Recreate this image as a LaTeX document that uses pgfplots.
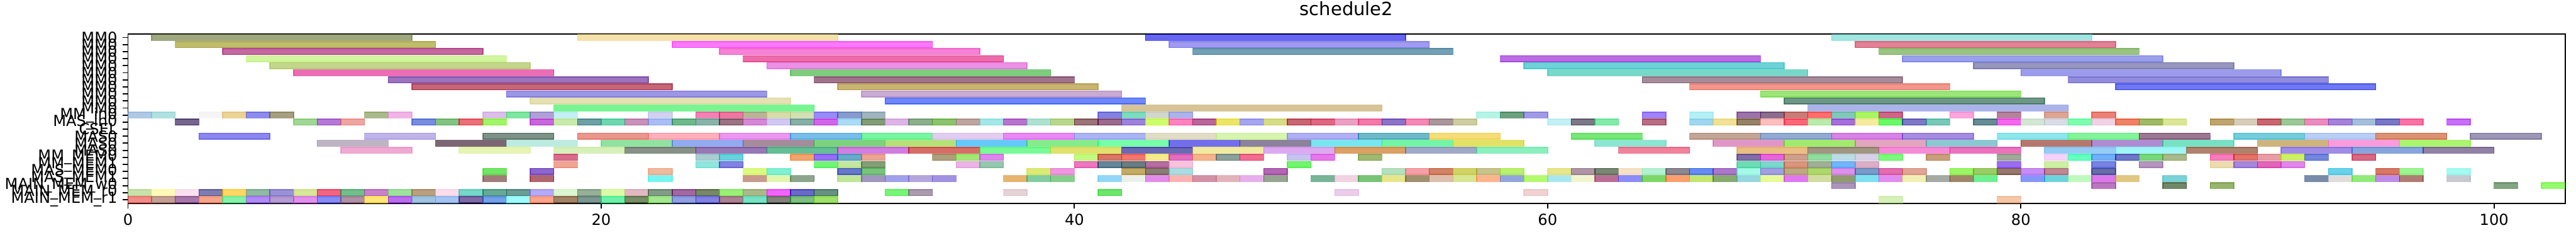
\documentclass[border=0pt]{standalone}
\usepackage{fontspec}
\setmainfont{DejaVu Sans}
\usepackage{pgfplots}
\pgfplotsset{compat=1.18}
\pgfplotsset{barsty/.style={fill opacity=0.6, draw opacity=0.6, line width=0.6pt}}
% \B{row}{start}{end}{R}{G}{B}  (observed colour over white, alpha 0.6)
\newcommand\B[6]{%
  \pgfmathtruncatemacro\bcR{max(0,min(255,(#4-102)/0.6))}%
  \pgfmathtruncatemacro\bcG{max(0,min(255,(#5-102)/0.6))}%
  \pgfmathtruncatemacro\bcB{max(0,min(255,(#6-102)/0.6))}%
  \pgfmathsetmacro\bya{#1-0.43}%
  \pgfmathsetmacro\byb{#1+0.43}%
  \edef\bdoit{\noexpand\addplot[barsty, fill={rgb,255:red,\bcR;green,\bcG;blue,\bcB}, draw={rgb,255:red,\bcR;green,\bcG;blue,\bcB}] coordinates {(#2,\bya) (#3,\bya) (#3,\byb) (#2,\byb)} --cycle;}%
  \bdoit}
% unit bar: \U{row}{start}{R}{G}{B}
\newcommand\U[5]{\B{#1}{#2}{\the\numexpr#2+1\relax}{#3}{#4}{#5}}
\begin{document}
\begin{tikzpicture}
\useasboundingbox (-84.24pt,-24.12pt) rectangle (1611.4pt,133.56pt);
\begin{axis}[
  at={(0,0)}, anchor=south west,
  scale only axis, width=1604.2pt, height=111.24pt,
  xmin=0, xmax=103, ymin=-0.5, ymax=23.5, y dir=reverse,
  xtick={0,20,40,60,80,100},
  ytick={0,...,23},
  yticklabels={MM0,MM0,MM0,MM0,MM0,MM0,MM0,MM0,MM0,MM0,MM0,MM\_in0,MAS\_in0,CSEL,MAS0,MAS0,MAS0,MM\_MEM0,MM\_MEM1,MAS\_MEM0,MAS\_MEM1,MAIN\_MEM\_w0,MAIN\_MEM\_r0,MAIN\_MEM\_r1},
  tick align=outside, tick pos=left,
  major tick length=3.5pt,
  every tick/.style={black, line width=0.8pt},
  axis line style={line width=0.8pt},
  tick label style={font=\fontsize{10}{12}\selectfont},
  /pgf/number format/assume math mode=true,
  title={schedule2},
  title style={font=\fontsize{12}{14}\selectfont, at={(0.5,1)}, anchor=base, yshift=6pt},
]
% MM0 rows
\B{0}{1}{12}{160}{168}{130}
\B{0}{19}{30}{245}{225}{170}
\B{0}{43}{54}{100}{100}{240}
\B{0}{72}{83}{160}{230}{225}
\B{1}{2}{13}{192}{188}{110}
\B{1}{23}{34}{250}{120}{250}
\B{1}{44}{55}{160}{155}{240}
\B{1}{73}{84}{225}{130}{150}
\B{2}{4}{15}{195}{105}{160}
\B{2}{25}{36}{245}{130}{215}
\B{2}{45}{56}{115}{160}{180}
\B{2}{74}{85}{155}{195}{130}
\B{3}{5}{16}{210}{245}{160}
\B{3}{26}{37}{235}{110}{170}
\B{3}{58}{69}{185}{110}{225}
\B{3}{75}{86}{155}{160}{235}
\B{4}{6}{17}{195}{215}{140}
\B{4}{27}{38}{235}{145}{230}
\B{4}{59}{70}{110}{210}{215}
\B{4}{78}{89}{150}{150}{190}
\B{5}{7}{18}{235}{110}{180}
\B{5}{28}{39}{125}{205}{125}
\B{5}{60}{71}{120}{215}{200}
\B{5}{80}{91}{155}{155}{235}
\B{6}{11}{22}{155}{115}{190}
\B{6}{29}{40}{160}{115}{140}
\B{6}{64}{75}{165}{140}{155}
\B{6}{82}{93}{145}{140}{220}
\B{7}{12}{23}{195}{100}{120}
\B{7}{30}{41}{200}{180}{115}
\B{7}{66}{77}{240}{150}{140}
\B{7}{84}{95}{110}{120}{240}
\B{8}{16}{27}{155}{150}{230}
\B{8}{31}{42}{200}{170}{210}
\B{8}{69}{80}{155}{230}{120}
\B{9}{17}{28}{230}{225}{180}
\B{9}{32}{43}{110}{135}{250}
\B{9}{70}{81}{110}{150}{135}
\B{10}{18}{29}{120}{245}{145}
\B{10}{42}{53}{215}{195}{150}
\B{10}{71}{82}{170}{180}{235}
% row 11 MM_in0
\U{11}{0}{175}{200}{230}
\U{11}{1}{175}{225}{225}
\U{11}{3}{245}{245}{245}
\U{11}{4}{235}{210}{150}
\U{11}{5}{140}{140}{235}
\U{11}{6}{165}{160}{130}
\U{11}{10}{170}{185}{140}
\U{11}{11}{240}{180}{230}
\U{11}{15}{220}{190}{235}
\U{11}{16}{125}{230}{160}
\U{11}{17}{175}{160}{215}
\U{11}{18}{195}{240}{245}
\U{11}{22}{210}{210}{240}
\U{11}{24}{240}{130}{180}
\U{11}{25}{235}{120}{160}
\U{11}{26}{185}{180}{150}
\U{11}{27}{215}{220}{170}
\U{11}{28}{210}{225}{180}
\U{11}{29}{150}{140}{245}
\U{11}{30}{135}{155}{205}
\U{11}{31}{160}{180}{190}
\U{11}{41}{130}{130}{225}
\U{11}{42}{125}{220}{190}
\U{11}{43}{210}{215}{205}
\U{11}{44}{170}{180}{235}
\U{11}{57}{180}{245}{230}
\U{11}{58}{110}{160}{125}
\U{11}{59}{160}{155}{230}
\U{11}{64}{160}{130}{250}
\U{11}{66}{180}{240}{245}
\U{11}{68}{155}{115}{170}
\U{11}{69}{140}{110}{140}
\U{11}{70}{200}{125}{120}
\U{11}{71}{255}{110}{110}
\U{11}{72}{130}{200}{185}
\U{11}{73}{170}{245}{90}
\U{11}{74}{205}{100}{135}
\U{11}{77}{250}{165}{220}
\U{11}{79}{180}{130}{155}
\U{11}{81}{220}{165}{150}
\U{11}{83}{235}{130}{120}
% row 12 MAS_in0
\U{12}{2}{115}{95}{140}
\U{12}{7}{160}{215}{150}
\U{12}{8}{180}{120}{215}
\U{12}{9}{240}{165}{160}
\U{12}{12}{120}{140}{225}
\U{12}{13}{130}{195}{130}
\U{12}{14}{235}{110}{120}
\U{12}{15}{160}{245}{100}
\U{12}{17}{200}{100}{220}
\U{12}{18}{200}{235}{170}
\U{12}{19}{110}{160}{165}
\U{12}{20}{110}{215}{175}
\U{12}{21}{200}{145}{185}
\U{12}{22}{170}{190}{245}
\U{12}{23}{110}{185}{140}
\U{12}{24}{135}{180}{170}
\U{12}{25}{155}{115}{130}
\U{12}{26}{215}{135}{215}
\U{12}{27}{210}{200}{245}
\U{12}{28}{135}{175}{165}
\U{12}{29}{210}{90}{235}
\U{12}{30}{170}{220}{245}
\U{12}{31}{130}{155}{120}
\U{12}{32}{220}{180}{230}
\U{12}{33}{140}{175}{140}
\U{12}{34}{140}{195}{110}
\U{12}{35}{190}{165}{160}
\U{12}{36}{165}{230}{230}
\U{12}{37}{185}{115}{205}
\U{12}{38}{175}{225}{210}
\U{12}{39}{185}{215}{140}
\U{12}{40}{155}{115}{120}
\U{12}{41}{155}{105}{140}
\U{12}{42}{155}{130}{220}
\U{12}{43}{205}{255}{105}
\U{12}{44}{255}{130}{190}
\U{12}{45}{185}{100}{155}
\U{12}{46}{235}{230}{90}
\U{12}{47}{165}{165}{240}
\U{12}{48}{215}{220}{135}
\U{12}{49}{200}{100}{115}
\U{12}{50}{225}{100}{130}
\U{12}{51}{235}{160}{195}
\U{12}{52}{245}{120}{170}
\U{12}{53}{140}{115}{200}
\U{12}{54}{245}{135}{180}
\U{12}{55}{170}{150}{155}
\U{12}{56}{205}{205}{160}
\U{12}{60}{195}{240}{245}
\U{12}{61}{125}{120}{135}
\U{12}{62}{130}{235}{170}
\U{12}{64}{185}{110}{130}
\U{12}{66}{160}{215}{240}
\U{12}{67}{240}{225}{150}
\U{12}{68}{150}{130}{100}
\U{12}{69}{255}{190}{190}
\U{12}{70}{255}{100}{120}
\U{12}{71}{185}{235}{170}
\U{12}{72}{165}{110}{220}
\U{12}{73}{245}{235}{160}
\U{12}{74}{100}{250}{100}
\U{12}{75}{125}{120}{200}
\U{12}{76}{120}{200}{185}
\U{12}{78}{100}{140}{150}
\U{12}{79}{245}{85}{240}
\U{12}{80}{210}{230}{210}
\U{12}{81}{215}{220}{230}
\U{12}{82}{125}{255}{175}
\U{12}{83}{240}{210}{230}
\U{12}{84}{240}{130}{90}
\U{12}{85}{160}{185}{90}
\U{12}{86}{220}{230}{150}
\U{12}{88}{190}{165}{110}
\U{12}{89}{215}{205}{185}
\U{12}{90}{200}{100}{110}
\U{12}{91}{155}{200}{150}
\U{12}{92}{235}{140}{190}
\U{12}{93}{165}{130}{220}
\U{12}{94}{165}{190}{220}
\U{12}{95}{120}{120}{200}
\U{12}{96}{250}{115}{165}
\U{12}{98}{200}{110}{250}
% row 14 MAS0
\B{14}{3}{6}{140}{135}{240}
\B{14}{10}{13}{190}{180}{235}
\B{14}{15}{18}{125}{145}{135}
\B{14}{19}{22}{235}{150}{140}
\B{14}{22}{25}{255}{175}{185}
\B{14}{25}{28}{235}{150}{240}
\B{14}{28}{31}{120}{190}{235}
\B{14}{31}{34}{120}{245}{160}
\B{14}{34}{37}{225}{205}{240}
\B{14}{37}{40}{235}{135}{245}
\B{14}{40}{43}{170}{180}{245}
\B{14}{43}{46}{225}{220}{200}
\B{14}{46}{49}{215}{245}{175}
\B{14}{49}{52}{175}{175}{245}
\B{14}{52}{55}{110}{185}{200}
\B{14}{55}{58}{245}{220}{120}
\B{14}{61}{64}{120}{230}{120}
\B{14}{66}{69}{195}{165}{150}
\B{14}{69}{72}{145}{170}{210}
\B{14}{72}{75}{215}{130}{230}
\B{14}{75}{78}{165}{140}{225}
\B{14}{79}{82}{140}{230}{235}
\B{14}{82}{85}{130}{245}{155}
\B{14}{85}{88}{155}{120}{145}
\B{14}{89}{92}{115}{205}{220}
\B{14}{92}{95}{185}{205}{245}
\B{14}{95}{98}{220}{145}{115}
\B{14}{99}{102}{155}{150}{180}
% row 15 MAS0
\B{15}{8}{11}{190}{180}{195}
\B{15}{13}{16}{125}{100}{115}
\B{15}{16}{19}{190}{235}{225}
\B{15}{20}{23}{145}{225}{160}
\B{15}{23}{26}{145}{170}{240}
\B{15}{26}{29}{165}{140}{155}
\B{15}{29}{32}{125}{210}{125}
\B{15}{32}{35}{180}{225}{120}
\B{15}{35}{38}{100}{200}{250}
\B{15}{38}{41}{135}{235}{140}
\B{15}{41}{44}{120}{255}{170}
\B{15}{44}{47}{115}{110}{235}
\B{15}{47}{50}{140}{130}{155}
\B{15}{50}{53}{120}{230}{240}
\B{15}{53}{56}{115}{245}{165}
\B{15}{56}{59}{225}{225}{100}
\B{15}{62}{65}{140}{230}{210}
\B{15}{67}{70}{225}{150}{200}
\B{15}{70}{73}{160}{235}{110}
\B{15}{73}{76}{225}{165}{190}
\B{15}{76}{79}{140}{200}{210}
\B{15}{80}{83}{180}{120}{110}
\B{15}{83}{86}{175}{140}{210}
\B{15}{86}{89}{120}{225}{195}
\B{15}{90}{93}{205}{180}{125}
\B{15}{93}{96}{250}{155}{220}
\B{15}{96}{99}{170}{245}{110}
% row 16 MAS0
\B{16}{9}{12}{240}{170}{210}
\B{16}{14}{17}{230}{245}{180}
\B{16}{18}{21}{215}{240}{185}
\B{16}{21}{24}{135}{145}{135}
\B{16}{24}{27}{150}{120}{180}
\B{16}{27}{30}{100}{190}{150}
\B{16}{30}{33}{210}{125}{225}
\B{16}{33}{36}{215}{110}{100}
\B{16}{36}{39}{120}{250}{150}
\B{16}{39}{42}{225}{225}{110}
\B{16}{42}{45}{105}{105}{180}
\B{16}{45}{48}{240}{235}{160}
\B{16}{48}{51}{220}{170}{240}
\B{16}{51}{54}{220}{160}{100}
\B{16}{54}{57}{160}{170}{200}
\B{16}{57}{60}{140}{240}{190}
\B{16}{63}{66}{240}{130}{155}
\B{16}{68}{71}{235}{190}{130}
\B{16}{71}{74}{160}{150}{130}
\B{16}{74}{77}{245}{140}{215}
\B{16}{77}{80}{235}{115}{190}
\B{16}{81}{84}{150}{205}{245}
\B{16}{84}{87}{160}{245}{245}
\B{16}{87}{90}{175}{130}{110}
\B{16}{91}{94}{160}{140}{230}
\B{16}{94}{97}{135}{165}{220}
\B{16}{97}{100}{145}{130}{165}
% row 17
\U{17}{18}{215}{110}{140}
\U{17}{24}{170}{205}{210}
\U{17}{25}{105}{210}{220}
\U{17}{28}{240}{165}{110}
\U{17}{29}{150}{110}{245}
\U{17}{30}{105}{170}{200}
\U{17}{31}{235}{165}{150}
\U{17}{34}{175}{160}{125}
\U{17}{35}{165}{230}{120}
\U{17}{36}{220}{135}{235}
\U{17}{40}{195}{250}{130}
\U{17}{41}{215}{120}{100}
\U{17}{42}{240}{120}{110}
\U{17}{43}{245}{235}{140}
\U{17}{44}{225}{110}{190}
\U{17}{45}{245}{180}{140}
\U{17}{46}{140}{160}{155}
\U{17}{47}{240}{110}{145}
\U{17}{49}{200}{195}{240}
\U{17}{50}{230}{120}{235}
\U{17}{52}{160}{185}{115}
\U{17}{68}{130}{110}{165}
\U{17}{69}{230}{100}{215}
\U{17}{70}{205}{160}{140}
\U{17}{71}{145}{220}{160}
\U{17}{72}{190}{220}{230}
\U{17}{73}{215}{210}{230}
\U{17}{74}{125}{250}{125}
\U{17}{76}{200}{160}{125}
\U{17}{79}{160}{170}{150}
\U{17}{81}{245}{210}{250}
\U{17}{82}{100}{255}{190}
\U{17}{83}{115}{175}{245}
\U{17}{84}{110}{120}{200}
\U{17}{85}{120}{215}{125}
\U{17}{86}{170}{185}{140}
\U{17}{88}{245}{125}{185}
\U{17}{89}{225}{115}{105}
\U{17}{90}{230}{160}{165}
\U{17}{91}{205}{240}{90}
\U{17}{92}{115}{135}{220}
\U{17}{94}{215}{105}{130}
% row 18
\U{18}{18}{240}{165}{150}
\U{18}{24}{145}{230}{220}
\U{18}{25}{130}{130}{225}
\U{18}{29}{115}{245}{120}
\U{18}{30}{195}{230}{160}
\U{18}{31}{130}{160}{120}
\U{18}{35}{235}{180}{230}
\U{18}{36}{150}{200}{175}
\U{18}{40}{235}{120}{190}
\U{18}{41}{100}{135}{155}
\U{18}{42}{105}{125}{130}
\U{18}{43}{180}{110}{160}
\U{18}{44}{245}{195}{220}
\U{18}{49}{115}{245}{110}
\U{18}{68}{110}{220}{180}
\U{18}{69}{125}{215}{205}
\U{18}{70}{215}{150}{125}
\U{18}{71}{160}{175}{150}
\U{18}{72}{115}{180}{250}
\U{18}{73}{220}{175}{200}
\U{18}{79}{155}{110}{240}
\U{18}{81}{205}{240}{165}
\U{18}{83}{120}{130}{225}
\U{18}{85}{180}{150}{190}
\U{18}{88}{235}{220}{175}
\U{18}{89}{165}{135}{220}
\U{18}{90}{225}{100}{185}
\U{18}{91}{225}{135}{235}
% row 19
\U{19}{15}{115}{230}{90}
\U{19}{17}{140}{95}{205}
\U{19}{22}{240}{185}{160}
\U{19}{26}{220}{250}{130}
\U{19}{27}{130}{240}{210}
\U{19}{30}{100}{120}{200}
\U{19}{31}{120}{195}{125}
\U{19}{38}{220}{235}{120}
\U{19}{39}{240}{150}{225}
\U{19}{42}{195}{170}{100}
\U{19}{43}{140}{125}{115}
\U{19}{44}{170}{220}{225}
\U{19}{48}{180}{100}{180}
\U{19}{53}{180}{225}{190}
\U{19}{54}{245}{160}{165}
\U{19}{55}{210}{130}{100}
\U{19}{56}{210}{210}{100}
\U{19}{57}{200}{195}{140}
\U{19}{58}{185}{240}{110}
\U{19}{60}{230}{230}{140}
\U{19}{61}{175}{150}{165}
\U{19}{62}{120}{135}{115}
\U{19}{63}{245}{225}{200}
\U{19}{64}{180}{240}{210}
\U{19}{65}{140}{135}{145}
\U{19}{66}{100}{140}{240}
\U{19}{67}{170}{120}{200}
\U{19}{68}{165}{250}{230}
\U{19}{69}{160}{160}{225}
\U{19}{70}{190}{170}{130}
\U{19}{71}{175}{215}{110}
\U{19}{72}{220}{145}{235}
\U{19}{73}{120}{155}{200}
\U{19}{74}{225}{110}{175}
\U{19}{75}{225}{165}{150}
\U{19}{77}{155}{245}{90}
\U{19}{78}{155}{205}{100}
\U{19}{79}{150}{120}{110}
\U{19}{80}{200}{140}{245}
\U{19}{81}{190}{135}{145}
\U{19}{83}{95}{110}{170}
\U{19}{93}{105}{210}{235}
\U{19}{95}{215}{120}{100}
\U{19}{96}{155}{245}{145}
\U{19}{98}{165}{250}{240}
% row 20
\U{20}{15}{160}{125}{120}
\U{20}{17}{175}{100}{110}
\U{20}{22}{120}{245}{240}
\U{20}{26}{200}{155}{140}
\U{20}{27}{225}{245}{175}
\U{20}{28}{140}{165}{140}
\U{20}{30}{190}{230}{150}
\U{20}{31}{160}{150}{190}
\U{20}{32}{160}{160}{235}
\U{20}{33}{180}{165}{220}
\U{20}{34}{160}{145}{225}
\U{20}{37}{230}{180}{110}
\U{20}{38}{130}{205}{160}
\U{20}{39}{135}{205}{140}
\U{20}{41}{145}{215}{245}
\U{20}{42}{235}{240}{235}
\U{20}{43}{225}{140}{235}
\U{20}{44}{250}{180}{175}
\U{20}{45}{210}{145}{165}
\U{20}{46}{225}{180}{185}
\U{20}{47}{230}{175}{235}
\U{20}{48}{150}{165}{145}
\U{20}{50}{120}{180}{150}
\U{20}{51}{240}{210}{225}
\U{20}{52}{120}{195}{120}
\U{20}{53}{230}{230}{140}
\U{20}{54}{160}{145}{110}
\U{20}{55}{220}{190}{170}
\U{20}{56}{215}{230}{145}
\U{20}{57}{255}{180}{140}
\U{20}{58}{145}{165}{220}
\U{20}{59}{180}{250}{110}
\U{20}{60}{170}{230}{240}
\U{20}{61}{240}{245}{205}
\U{20}{62}{185}{110}{150}
\U{20}{63}{140}{140}{250}
\U{20}{64}{125}{215}{95}
\U{20}{65}{250}{160}{110}
\U{20}{66}{195}{230}{110}
\U{20}{67}{135}{170}{110}
\U{20}{68}{150}{215}{225}
\U{20}{69}{230}{250}{150}
\U{20}{70}{225}{120}{240}
\U{20}{71}{210}{220}{160}
\U{20}{72}{145}{155}{110}
\U{20}{73}{125}{225}{240}
\U{20}{74}{225}{140}{240}
\U{20}{75}{240}{240}{180}
\U{20}{76}{165}{170}{165}
\U{20}{77}{160}{135}{105}
\U{20}{78}{110}{240}{145}
\U{20}{80}{135}{150}{250}
\U{20}{81}{110}{210}{220}
\U{20}{82}{190}{250}{190}
\U{20}{83}{220}{120}{235}
\U{20}{84}{225}{200}{130}
\U{20}{86}{120}{210}{215}
\U{20}{92}{120}{140}{170}
\U{20}{93}{225}{220}{220}
\U{20}{94}{145}{235}{120}
\U{20}{95}{190}{140}{230}
\U{20}{96}{175}{125}{115}
\U{20}{98}{200}{200}{210}
% row 21 MAIN_MEM_w0
\U{21}{72}{170}{150}{185}
\U{21}{83}{185}{120}{190}
\U{21}{86}{115}{135}{105}
\U{21}{88}{150}{180}{110}
\U{21}{100}{130}{165}{130}
\U{21}{102}{150}{250}{110}
% row 22 MAIN_MEM_r0
\U{22}{0}{200}{225}{170}
\U{22}{1}{255}{250}{185}
\U{22}{2}{250}{225}{240}
\U{22}{3}{125}{125}{175}
\U{22}{4}{255}{215}{100}
\U{22}{5}{145}{185}{165}
\U{22}{6}{155}{145}{215}
\U{22}{7}{215}{230}{155}
\U{22}{8}{240}{100}{130}
\U{22}{9}{115}{190}{140}
\U{22}{10}{200}{130}{200}
\U{22}{11}{160}{225}{160}
\U{22}{12}{185}{160}{130}
\U{22}{13}{250}{220}{235}
\U{22}{14}{120}{215}{200}
\U{22}{15}{100}{170}{150}
\U{22}{16}{110}{155}{150}
\U{22}{17}{180}{170}{245}
\U{22}{18}{220}{245}{210}
\U{22}{19}{150}{175}{150}
\U{22}{20}{220}{250}{170}
\U{22}{21}{225}{185}{195}
\U{22}{22}{130}{155}{135}
\U{22}{23}{160}{105}{160}
\U{22}{24}{120}{135}{105}
\U{22}{25}{155}{240}{120}
\U{22}{26}{170}{185}{140}
\U{22}{27}{240}{100}{250}
\U{22}{28}{105}{105}{200}
\U{22}{29}{105}{145}{130}
\U{22}{32}{120}{245}{120}
\U{22}{33}{170}{155}{175}
\U{22}{37}{230}{210}{215}
\U{22}{41}{110}{230}{110}
\U{22}{51}{235}{205}{235}
\U{22}{59}{240}{210}{210}
% row 23 MAIN_MEM_r1
\U{23}{0}{240}{140}{135}
\U{23}{1}{195}{160}{150}
\U{23}{2}{165}{120}{170}
\U{23}{3}{245}{165}{140}
\U{23}{4}{135}{240}{170}
\U{23}{5}{175}{140}{245}
\U{23}{6}{180}{155}{210}
\U{23}{7}{225}{145}{235}
\U{23}{8}{135}{140}{245}
\U{23}{9}{175}{145}{165}
\U{23}{10}{255}{230}{120}
\U{23}{11}{185}{110}{235}
\U{23}{12}{160}{195}{225}
\U{23}{13}{165}{195}{240}
\U{23}{14}{125}{105}{165}
\U{23}{15}{115}{160}{230}
\U{23}{16}{160}{250}{250}
\U{23}{17}{250}{165}{140}
\U{23}{18}{160}{130}{100}
\U{23}{19}{125}{150}{145}
\U{23}{20}{110}{240}{170}
\U{23}{21}{120}{140}{100}
\U{23}{22}{165}{230}{145}
\U{23}{23}{145}{160}{225}
\U{23}{24}{130}{130}{225}
\U{23}{25}{170}{130}{145}
\U{23}{26}{120}{225}{195}
\U{23}{27}{130}{130}{125}
\U{23}{28}{125}{190}{130}
\U{23}{29}{160}{225}{110}
\U{23}{74}{215}{240}{185}
\U{23}{79}{245}{200}{170}
\end{axis}
\end{tikzpicture}
\end{document}
